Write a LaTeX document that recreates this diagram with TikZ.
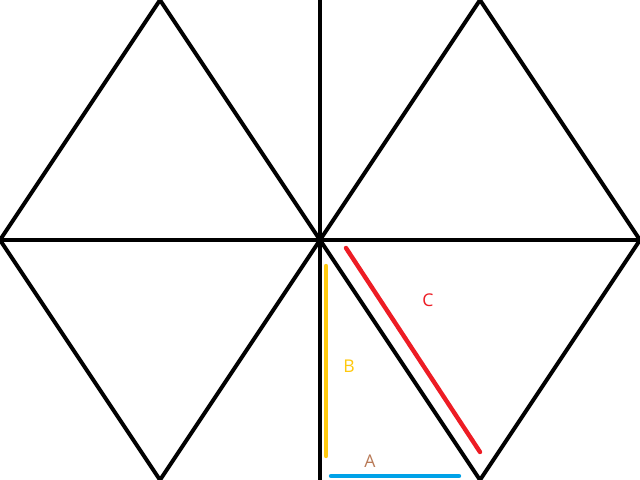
\documentclass[tikz,border=0pt]{standalone}
\usepackage{fontspec}
\setmainfont{Open Sans}
\definecolor{pred}{HTML}{ED1C24}
\definecolor{pyellow}{HTML}{FFC90E}
\definecolor{pblue}{HTML}{00A2E8}
\definecolor{pbrown}{HTML}{B97A57}
\begin{document}
\begin{tikzpicture}[x=0.025cm,y=-0.025cm,
  edge/.style={line width=0.1cm,black,line cap=round,line join=miter},
  seg/.style={line width=0.11cm,line cap=round},
  lbl/.style={inner sep=0pt,font=\fontsize{12.5}{14}\selectfont}]
\useasboundingbox (0,0) rectangle (640,480);
\clip (0,0) rectangle (640,480);
\fill[white] (0,0) rectangle (640,480);
\coordinate (lt) at (160,0);
\coordinate (ll) at (0,240);
\coordinate (lb) at (160,480);
\coordinate (c) at (320,240);
\coordinate (rt) at (480,0);
\coordinate (rr) at (640,240);
\coordinate (rb) at (480,480);
\coordinate (vt) at (320,0);
\coordinate (vb) at (320,480);
\draw[edge] (lt) -- (ll) -- (lb) -- (c) -- cycle;
\draw[edge] (rt) -- (c) -- (rb) -- (rr) -- cycle;
\draw[edge] (ll) -- (rr);
\draw[edge] (vt) -- (vb);
\coordinate (b1) at (326,266);
\coordinate (b2) at (326,456);
\coordinate (c1) at (346,248);
\coordinate (c2) at (480,452);
\coordinate (a1) at (331,476);
\coordinate (a2) at (459,476);
\draw[seg,pyellow] (b1) -- (b2);
\draw[seg,pred] (c1) -- (c2);
\draw[seg,pblue] (a1) -- (a2);
\node[lbl,text=pred] (lc) at (428,300) {C};
\node[lbl,text=pyellow] (lbB) at (349,366) {B};
\node[lbl,text=pbrown] (la) at (370,461) {A};
\end{tikzpicture}
\end{document}
